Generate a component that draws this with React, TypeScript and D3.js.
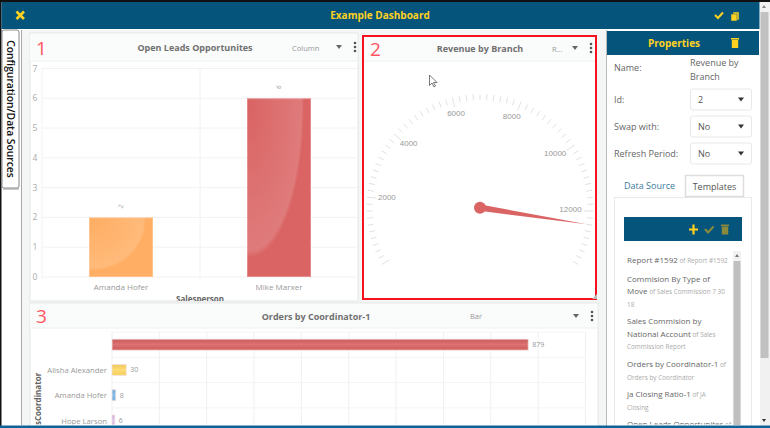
import React from "react";
import * as d3 from "d3";

const salespeople = ["Amanda Hofer", "Mike Marxer"];
const openLeads = [2, 6];
const leadColors = ["#ffae63", "#da6464"];
const leadTicks = [0, 1, 2, 3, 4, 5, 6, 7];

const coordinators = ["", "Alisha Alexander", "Amanda Hofer", "Hope Larson"];
const orders = [879, 30, 8, 6];
const orderColors = ["#da6464", "#ffd966", "#7cb8e8", "#dcbcec"];
const orderTicks = [0, 100, 200, 300, 400, 500, 600, 700, 800, 900, 1000];

const gaugeLabels = [2000, 4000, 6000, 8000, 10000, 12000];
const gaugeValue = 12400;
const gaugeMax = 13600;

const selects = ["Id:", "Swap with:", "Refresh Period:"];
const selectValues = ["2", "No", "No"];

const templateLines: [string, string][] = [
  ["Report #1592", " of Report #1592"],
  ["Commision By Type of", ""],
  ["Move", " of Sales Commission 7 30"],
  ["", "18"],
  ["Sales Commision by", ""],
  ["National Account", " of Sales"],
  ["", "Commission Report"],
  ["Orders by Coordinator-1", " of"],
  ["", "Orders by Coordinator"],
  ["ja Closing Ratio-1", " of JA"],
  ["", "Closing"],
  ["Open Leads Opportunites", " of"],
];
const templateLineY = [260, 278.5, 291, 303.5, 321, 333.5, 346, 364, 376.5, 394, 407, 424];

const NAVY = "#04547c";
const YELLOW = "#ffd21f";
const FONT = "'Open Sans', sans-serif";

const Caret = ({ x, y, color = "#666" }: { x: number; y: number; color?: string }) => (
  <path d={`M${x - 3},${y - 2}H${x + 3}L${x},${y + 2}Z`} fill={color} />
);

const Kebab = ({ x, y }: { x: number; y: number }) => (
  <g fill="#555">
    {[-4, 0, 4].map(d => <circle key={d} cx={x} cy={y + d} r={1.3} />)}
  </g>
);

const Trash = ({ x, y, color }: { x: number; y: number; color: string }) => (
  <g fill={color}>
    <rect x={x - 4} y={y - 5} width={8} height={1.6} />
    <rect x={x - 3.2} y={y - 3} width={6.4} height={8} />
  </g>
);

const PanelHeader = ({ x, y, w, h, num, title, titleX, kind, kindX, numX }: any) => (
  <g>
    <rect x={x} y={y} width={w} height={h} fill="#fafbfb" />
    <line x1={x} x2={x + w} y1={y + h} y2={y + h} stroke="#eef0f0" />
    <text x={numX} y={y + h / 2 + 7} fontSize={19} fill="#ff5560" fontFamily={FONT}>{num}</text>
    <text x={titleX} y={y + h / 2 + 3.5} fontSize={9} fontWeight={700} fill="#707070" textAnchor="middle" fontFamily={FONT}>{title}</text>
    <text x={kindX} y={y + h / 2 + 3} fontSize={7.5} fill="#999" fontFamily={FONT}>{kind}</text>
  </g>
);

export default function App() {
  // chart 1: columns
  const leadY = d3.scaleLinear().domain([0, 7]).range([277, 68.5]);
  const leadX = d3.scaleBand().domain(salespeople).range([42, 358]).paddingInner(0.595).paddingOuter(0.2975);
  const leadStep = leadX.step();
  const leadGrid = d3.scaleBand().domain(salespeople).range([42, 358]);

  // chart 2: gauge
  const cx = 480;
  const cy = 207.7;
  const angle = d3.scaleLinear().domain([0, gaugeMax]).range([-120, 120]);
  const polar = (deg: number, r: number): [number, number] => {
    const a = (deg * Math.PI) / 180;
    return [cx + r * Math.sin(a), cy - r * Math.cos(a)];
  };
  const gaugeTicks = d3.range(0, gaugeMax + 1, 200);
  const needleAngle = angle(gaugeValue);
  const needleLine = d3.line()([
    polar(needleAngle - 90, 3.2),
    polar(needleAngle, 108),
    polar(needleAngle + 90, 3.2),
  ]) as string;

  // chart 3: horizontal bars
  const orderX = d3.scaleLinear().domain([0, 1000]).range([112, 585.5]);
  const orderY = d3.scaleBand().domain(coordinators).range([332, 433.2]).paddingInner(0.565).paddingOuter(0.2825);

  return (
    <svg width={770} height={428} style={{ position: "fixed", left: 0, top: 0 }} fontFamily={FONT}>
      <defs>
        <radialGradient id="gloss" cx="0.05" cy="0.05" r="1">
          <stop offset="0" stopColor="#fff" stopOpacity="0" />
          <stop offset="0.8" stopColor="#fff" stopOpacity="0.15" />
          <stop offset="0.84" stopColor="#fff" stopOpacity="0" />
        </radialGradient>
        <linearGradient id="glossH" x1="0" x2="0" y1="0" y2="1">
          <stop offset="0" stopColor="#000" stopOpacity="0.05" />
          <stop offset="0.5" stopColor="#fff" stopOpacity="0.1" />
          <stop offset="1" stopColor="#000" stopOpacity="0.02" />
        </linearGradient>
        <clipPath id="clip1"><rect x={30} y={33} width={328} height={268} /></clipPath>
        <clipPath id="clip3"><rect x={30} y={303} width={568} height={121.5} /></clipPath>
        <clipPath id="clipList"><rect x={620} y={250} width={112} height={174.5} /></clipPath>
      </defs>

      <rect width={770} height={428} fill="#fff" />
      <rect x={22} y={30} width={584} height={396} fill="#f4f5f5" />

      {/* top bar */}
      <rect x={0} y={0} width={770} height={2} fill="#111" />
      <rect x={0} y={0} width={1.5} height={428} fill="#111" />
      <rect x={1.5} y={2} width={758} height={27} fill={NAVY} />
      <path d="M16.5,11.5L24,19M24,11.5L16.5,19" stroke={YELLOW} strokeWidth={2.6} />
      <text x={380} y={19} fontSize={10} fontWeight={700} fill={YELLOW} textAnchor="middle">Example Dashboard</text>
      <path d="M715,15L718,18L723,12.5" stroke={YELLOW} strokeWidth={2} fill="none" />
      <rect x={733} y={12} width={6} height={8} fill={YELLOW} stroke={NAVY} strokeWidth={0.5} />
      <rect x={731} y={14} width={6} height={7} fill={YELLOW} stroke={NAVY} strokeWidth={0.5} />

      {/* side tab */}
      <line x1={21.5} x2={21.5} y1={30} y2={425} stroke="#aaa" strokeWidth={1} />
      <rect x={2} y={30} width={17} height={158} rx={2} fill="#fff" stroke="#888" strokeWidth={1} />
      <line x1={3} x2={19} y1={189} y2={189} stroke="#999" strokeWidth={1} />
      <text transform="translate(7,109) rotate(90)" fontSize={10.3} fontWeight={600} fill="#111" textAnchor="middle">Configuration/Data Sources</text>

      {/* panel 1 */}
      <rect x={30} y={33} width={328} height={268} fill="#fff" stroke="#e4e6e6" />
      <PanelHeader x={30} y={34} w={327} h={27} num="1" numX={36} title="Open Leads Opportunites" titleX={195} kind="Column" kindX={292} />
      <Caret x={339} y={47} />
      <Kebab x={355} y={47} />
      <g clipPath="url(#clip1)">
        {leadTicks.map(t => (
          <line key={t} x1={42} x2={358} y1={leadY(t)} y2={leadY(t)} stroke="#f1f2f2" />
        ))}
        {[...salespeople.map(s => leadGrid(s) as number), 358].map(x => (
          <line key={x} x1={x} x2={x} y1={68.5} y2={279} stroke="#f1f2f2" />
        ))}
        {leadTicks.map(t => (
          <text key={t} x={35} y={leadY(t) + 3} fontSize={8.5} fill="#aaa" textAnchor="middle">{t}</text>
        ))}
        {salespeople.map((s, i) => {
          const x = leadX(s) as number;
          const y = leadY(openLeads[i]);
          const h = leadY(0) - y;
          return (
            <g key={s}>
              <rect x={x} y={y} width={leadX.bandwidth()} height={h} fill={leadColors[i]} />
              <rect x={x} y={y} width={leadX.bandwidth()} height={h} fill="url(#gloss)" />
              <rect x={x + 0.5} y={y + 0.5} width={leadX.bandwidth() - 1} height={h - 1} fill="none" stroke="#fff" strokeOpacity={0.25} />
              <text transform={`translate(${x + leadX.bandwidth() / 2},${y - 11}) rotate(-75)`} fontSize={6.5} fill="#999" textAnchor="middle" dy={2}>{openLeads[i]}</text>
              <text x={(leadGrid(s) as number) + leadStep / 2} y={290} fontSize={8} fill="#999" textAnchor="middle">{s}</text>
            </g>
          );
        })}
        <text x={200} y={302} fontSize={8} fontWeight={700} fill="#666" textAnchor="middle">Salesperson</text>
      </g>

      {/* panel 3 */}
      <rect x={30} y={303} width={568} height={125} fill="#fff" stroke="#e4e6e6" />
      <PanelHeader x={30} y={304} w={567} h={24} num="3" numX={36} title="Orders by Coordinator-1" titleX={316} kind="Bar" kindX={470} />
      <Caret x={576} y={316} />
      <Kebab x={592} y={316} />
      <g clipPath="url(#clip3)">
        {orderTicks.map(t => (
          <line key={t} x1={orderX(t)} x2={orderX(t)} y1={332} y2={426} stroke="#eff0f0" />
        ))}
        {[...coordinators.map(c => (orderY(c) as number) - orderY.step() * orderY.paddingOuter()), 433].map(y => (
          <line key={y} x1={111} x2={585.5} y1={y} y2={y} stroke="#f3f4f4" />
        ))}
        {coordinators.map((c, i) => {
          const y = orderY(c) as number;
          const w = orderX(orders[i]) - orderX(0);
          const mid = y + orderY.bandwidth() / 2;
          return (
            <g key={c || "first"}>
              <rect x={orderX(0)} y={y} width={w} height={orderY.bandwidth()} fill={orderColors[i]} stroke="#f6e4e4" strokeWidth={0.8} />
              <rect x={orderX(0)} y={y} width={w} height={orderY.bandwidth()} fill="url(#glossH)" />
              <text x={orderX(orders[i]) + 4} y={mid + 2.5} fontSize={7} fill="#999">{orders[i]}</text>
              <text x={107} y={mid + 3} fontSize={7.7} fill="#999" textAnchor="end">{c}</text>
            </g>
          );
        })}
        <text transform="translate(40.5,425) rotate(-90)" fontSize={8} fontWeight={700} fill="#666">sCoordinator</text>
      </g>

      {/* panel 2: gauge */}
      <rect x={362} y={35} width={235} height={265} fill="#fff" />
      <PanelHeader x={363} y={36} w={233} h={25} num="2" numX={370} title="Revenue by Branch" titleX={480} kind="R..." kindX={552} />
      <Caret x={575} y={48} />
      <Kebab x={591} y={48} />
      {gaugeTicks.map(t => {
        const major = t % 2000 === 0;
        const [x1, y1] = polar(angle(t), 113.5);
        const [x2, y2] = polar(angle(t), major ? 104 : 107.5);
        return <line key={t} x1={x1} y1={y1} x2={x2} y2={y2} stroke="#e2e2e2" strokeWidth={1} />;
      })}
      {gaugeLabels.map(t => {
        const [x, y] = polar(angle(t), 96);
        const offX = -Math.sin((angle(t) * Math.PI) / 180) * 4;
        return (
          <text key={t} x={x + offX - 1.5} y={y + 1} fontSize={8} fill="#999" textAnchor="middle" fontFamily="'Liberation Sans', sans-serif">{t}</text>
        );
      })}
      <path d={needleLine} fill="#da6464" />
      <circle cx={cx} cy={cy} r={6} fill="#da6464" />
      <rect x={363} y={36} width={233} height={263} fill="none" stroke="#f5121e" strokeWidth={2} />
      <path d="M597,294V299H592Z" fill="#bbb" />

      {/* mouse cursor */}
      <path d="M429.5,75V85.5L432,83L434,87L435.5,86L433.5,82.5H437Z" fill="#fff" stroke="#555" strokeWidth={0.8} />

      {/* properties */}
      <rect x={606} y={30} width={154} height={396} fill="#fff" />
      <line x1={606.5} x2={606.5} y1={30} y2={426} stroke="#bbb" />
      <rect x={607} y={31} width={152} height={24} fill={NAVY} />
      <text x={674} y={47} fontSize={10} fontWeight={700} fill={YELLOW} textAnchor="middle">Properties</text>
      <Trash x={735} y={43} color={YELLOW} />
      <text x={614} y={71} fontSize={9} fill="#666">Name:</text>
      <text x={690} y={66} fontSize={9} fill="#666">Revenue by</text>
      <text x={690} y={80} fontSize={9} fill="#666">Branch</text>
      {selects.map((label, i) => {
        const y = 89 + i * 27;
        return (
          <g key={label}>
            <text x={614} y={y + 14} fontSize={9} fill="#666">{label}</text>
            <rect x={690.5} y={y} width={61} height={21} rx={2} fill="#fff" stroke="#e8e8e8" />
            <text x={698} y={y + 14} fontSize={9} fill="#555">{selectValues[i]}</text>
            <Caret x={741} y={y + 10.5} color="#333" />
          </g>
        );
      })}
      <text x={624} y={189} fontSize={9} fill="#3a7a9c">Data Source</text>
      <rect x={614.5} y={197.5} width={137} height={230} fill="#fff" stroke="#eaeaea" />
      <rect x={685.5} y={175.5} width={58} height={21} fill="#fff" stroke="#ddd" strokeWidth={1.5} />
      <text x={714.5} y={190} fontSize={9} fill="#555" textAnchor="middle">Templates</text>
      <rect x={624} y={217} width={118} height={24} fill={NAVY} />
      <path d="M693.5,224.5V234.5M689,229.5H698" stroke={YELLOW} strokeWidth={2.2} />
      <path d="M705,229L708,232.5L713.5,226.5" stroke="#8b8a3c" strokeWidth={2} fill="none" />
      <Trash x={725} y={229.5} color="#8b8a3c" />
      <g clipPath="url(#clipList)">
        {templateLines.map(([main, sub], i) => (
          <text key={i} x={627} y={templateLineY[i] + 3} fontSize={8} fill="#666">
            {main}
            <tspan fontSize={6.4} fill="#aaa">{sub}</tspan>
          </text>
        ))}
      </g>
      <rect x={733} y={251} width={8} height={174} fill="#f1f1f1" />
      <rect x={733.5} y={261} width={7} height={164} fill="#bfbfbf" />
      <path d="M737,254L735,257H739Z" fill="#777" />

      {/* outer scrollbar */}
      <rect x={760} y={2} width={10} height={424} fill="#f1f1f1" />
      <rect x={760.5} y={12} width={8} height={346} fill="#c1c1c1" />
      <path d="M764,5L762,8H766Z" fill="#888" />
      <path d="M764,422L762,419H766Z" fill="#333" />

      {/* bottom edge */}
      <rect x={0} y={425.5} width={770} height={2.5} fill="#0c6496" />
    </svg>
  );
}
